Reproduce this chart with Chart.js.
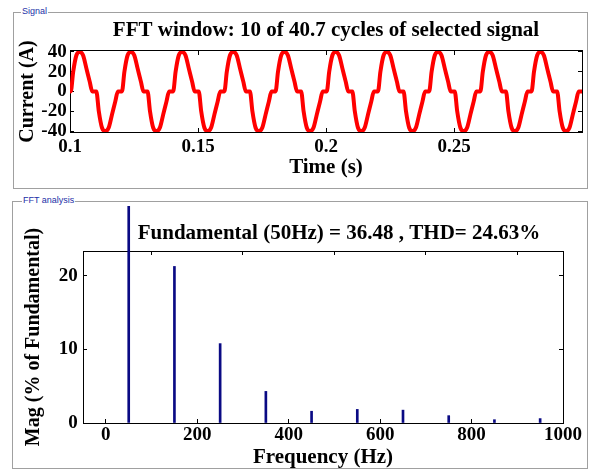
<!DOCTYPE html>
<html>
<head>
<meta charset="utf-8">
<script src="https://cdn.jsdelivr.net/npm/chart.js@4/dist/chart.umd.min.js"></script>
<style>
html,body{margin:0;padding:0;background:#fff;}
body{width:603px;height:472px;overflow:hidden;position:relative;}
.box{position:absolute;box-sizing:border-box;border:1px solid #a0a0a0;}
.lbl{position:absolute;font:9px "Liberation Sans",Arial,sans-serif;color:#2330a8;background:#fff;padding:0 1px;line-height:11px;white-space:nowrap;z-index:3;}
canvas{position:absolute;z-index:2;}
</style>
</head>
<body>
<div class="box" style="left:13px;top:12px;width:575px;height:177px;"></div>
<div class="lbl" style="left:21px;top:6px;">Signal</div>
<div class="box" style="left:12px;top:201px;width:576px;height:268px;"></div>
<div class="lbl" style="left:22px;top:195px;">FFT analysis</div>
<canvas id="c1" width="603" height="190" style="left:0;top:0;width:603px;height:190px;"></canvas>
<canvas id="c2" width="678" height="282" style="left:0;top:190px;width:678px;height:282px;"></canvas>
<script>
// ---------- Signal (top panel) ----------
const signalTitle = 'FFT window: 10 of 40.7 cycles of selected signal';
const signalXLabel = 'Time (s)';
const signalYLabel = 'Current (A)';
const timeTicks = [0.1, 0.15, 0.2, 0.25];
const currentTicks = [-40, -20, 0, 20, 40];

const timeS = [
  0.1,
  0.1003, 0.10125, 0.1025, 0.1038, 0.1051, 0.1064, 0.1077, 0.1087, 0.1103, 0.11125, 0.1125, 0.1138, 0.1151, 0.1164, 0.1177, 0.1187,
  0.1203, 0.12125, 0.1225, 0.1238, 0.1251, 0.1264, 0.1277, 0.1287, 0.1303, 0.13125, 0.1325, 0.1338, 0.1351, 0.1364, 0.1377, 0.1387,
  0.1403, 0.14125, 0.1425, 0.1438, 0.1451, 0.1464, 0.1477, 0.1487, 0.1503, 0.15125, 0.1525, 0.1538, 0.1551, 0.1564, 0.1577, 0.1587,
  0.1603, 0.16125, 0.1625, 0.1638, 0.1651, 0.1664, 0.1677, 0.1687, 0.1703, 0.17125, 0.1725, 0.1738, 0.1751, 0.1764, 0.1777, 0.1787,
  0.1803, 0.18125, 0.1825, 0.1838, 0.1851, 0.1864, 0.1877, 0.1887, 0.1903, 0.19125, 0.1925, 0.1938, 0.1951, 0.1964, 0.1977, 0.1987,
  0.2003, 0.20125, 0.2025, 0.2038, 0.2051, 0.2064, 0.2077, 0.2087, 0.2103, 0.21125, 0.2125, 0.2138, 0.2151, 0.2164, 0.2177, 0.2187,
  0.2203, 0.22125, 0.2225, 0.2238, 0.2251, 0.2264, 0.2277, 0.2287, 0.2303, 0.23125, 0.2325, 0.2338, 0.2351, 0.2364, 0.2377, 0.2387,
  0.2403, 0.24125, 0.2425, 0.2438, 0.2451, 0.2464, 0.2477, 0.2487, 0.2503, 0.25125, 0.2525, 0.2538, 0.2551, 0.2564, 0.2577, 0.2587,
  0.2603, 0.26125, 0.2625, 0.2638, 0.2651, 0.2664, 0.2677, 0.2687, 0.2703, 0.27125, 0.2725, 0.2738, 0.2751, 0.2764, 0.2777, 0.2787,
  0.2803, 0.28125, 0.2825, 0.2838, 0.2851, 0.2864, 0.2877, 0.2887, 0.2903, 0.29125, 0.2925, 0.2938, 0.2951, 0.2964, 0.2977, 0.2987,
  0.3
];
const currentA = [
  0,
  0, 20, 36.7, 40, 36.7, 23.4, 10, 0, 0, -20, -36.7, -40, -36.7, -23.4, -10, 0,
  0, 20, 36.7, 40, 36.7, 23.4, 10, 0, 0, -20, -36.7, -40, -36.7, -23.4, -10, 0,
  0, 20, 36.7, 40, 36.7, 23.4, 10, 0, 0, -20, -36.7, -40, -36.7, -23.4, -10, 0,
  0, 20, 36.7, 40, 36.7, 23.4, 10, 0, 0, -20, -36.7, -40, -36.7, -23.4, -10, 0,
  0, 20, 36.7, 40, 36.7, 23.4, 10, 0, 0, -20, -36.7, -40, -36.7, -23.4, -10, 0,
  0, 20, 36.7, 40, 36.7, 23.4, 10, 0, 0, -20, -36.7, -40, -36.7, -23.4, -10, 0,
  0, 20, 36.7, 40, 36.7, 23.4, 10, 0, 0, -20, -36.7, -40, -36.7, -23.4, -10, 0,
  0, 20, 36.7, 40, 36.7, 23.4, 10, 0, 0, -20, -36.7, -40, -36.7, -23.4, -10, 0,
  0, 20, 36.7, 40, 36.7, 23.4, 10, 0, 0, -20, -36.7, -40, -36.7, -23.4, -10, 0,
  0, 20, 36.7, 40, 36.7, 23.4, 10, 0, 0, -20, -36.7, -40, -36.7, -23.4, -10, 0,
  0
];

// ---------- FFT analysis (bottom panel) ----------
const fftTitle = 'Fundamental (50Hz) = 36.48 , THD= 24.63%';
const fftXLabel = 'Frequency (Hz)';
const fftYLabel = 'Mag (% of Fundamental)';
const freqTicks = [0, 200, 400, 600, 800, 1000];
const magTicks = [0, 10, 20];
const harmonicHz = [50, 150, 250, 350, 450, 550, 650, 750, 850, 950];
const magPct = [100, 21.3, 10.8, 4.3, 1.6, 1.85, 1.75, 1.0, 0.45, 0.6];

// ---------- common styling ----------
const SERIF = '"Liberation Serif","Times New Roman",serif';
const tickFont = {family: SERIF, size: 19, weight: 'bold'};
const titleFont = {family: SERIF, size: 21, weight: 'bold'};
const vTitleFont = {family: SERIF, size: 20, weight: 'bold'};
const BLACK = '#000';

function setTicks(list) { return s => { s.ticks = list.map(v => ({value: v})); }; }
function fixH(h) { return s => { s.height = h; }; }
function fixW(w) { return s => { s.width = w; }; }
const innerGrid = {drawOnChartArea: false, drawTicks: true, tickLength: -4, color: BLACK, lineWidth: 1};
const frameBorder = {display: true, color: BLACK, width: 1};

function mirrorAxis(axis, position, min, max, list, fit) {
  return {
    type: 'linear', axis: axis, position: position, display: true, min: min, max: max, offset: false,
    afterBuildTicks: setTicks(list), afterFit: fit,
    ticks: {display: false}, grid: innerGrid, border: frameBorder
  };
}

// ---------- top chart ----------
new Chart(document.getElementById('c1'), {
  type: 'line',
  data: {
    datasets: [{
      data: timeS.map((t, i) => ({x: t, y: currentA[i]})),
      borderColor: '#ff0000', borderWidth: 4, pointRadius: 0,
      cubicInterpolationMode: 'monotone', fill: false,
      borderJoinStyle: 'round', borderCapStyle: 'round'
    }]
  },
  options: {
    responsive: false, animation: false, devicePixelRatio: 1, events: [],
    layout: {padding: 0, autoPadding: false},
    plugins: {
      legend: {display: false}, tooltip: {enabled: false},
      title: {display: true, text: signalTitle, fullSize: false, color: BLACK, font: titleFont, padding: {top: 18.4, bottom: 5}}
    },
    scales: {
      x: {
        type: 'linear', position: 'bottom', min: 0.1, max: 0.3,
        afterBuildTicks: setTicks(timeTicks), afterFit: fixH(58),
        ticks: {font: tickFont, color: BLACK, padding: 8.1, maxRotation: 0, minRotation: 0, autoSkip: false, callback: v => String(v)},
        grid: innerGrid, border: frameBorder,
        title: {display: true, text: signalXLabel, color: BLACK, font: titleFont, padding: {top: 0, bottom: 9.4}}
      },
      x2: mirrorAxis('x', 'top', 0.1, 0.3, timeTicks, fixH(2.4)),
      y: {
        type: 'linear', position: 'left', min: -41, max: 41,
        afterBuildTicks: setTicks(currentTicks), afterFit: fixW(70),
        ticks: {font: tickFont, color: BLACK, padding: 7.3, autoSkip: false, callback: v => String(v)},
        grid: innerGrid, border: frameBorder,
        title: {display: true, text: signalYLabel, color: BLACK, font: vTitleFont, padding: {top: 16.3, bottom: 0}}
      },
      y2: mirrorAxis('y', 'right', -41, 41, currentTicks, fixW(21))
    }
  }
});

// ---------- bottom chart ----------
new Chart(document.getElementById('c2'), {
  type: 'bar',
  data: {
    datasets: [{
      data: harmonicHz.map((f, i) => ({x: f, y: magPct[i]})),
      backgroundColor: '#0a0a84', borderWidth: 0, barThickness: 2, grouped: false,
      clip: {left: 0, top: 45, right: 0, bottom: 0}
    }]
  },
  options: {
    responsive: false, animation: false, devicePixelRatio: 1, events: [],
    layout: {padding: 0, autoPadding: false},
    plugins: {
      legend: {display: false}, tooltip: {enabled: false},
      title: {display: true, text: fftTitle, fullSize: true, color: BLACK, font: titleFont, padding: {top: 30.7, bottom: 2}}
    },
    scales: {
      x: {
        type: 'linear', position: 'bottom', min: -50, max: 1000, offset: false,
        afterBuildTicks: setTicks(freqTicks), afterFit: fixH(49),
        ticks: {font: tickFont, color: BLACK, padding: 5.1, maxRotation: 0, minRotation: 0, autoSkip: false, callback: v => String(v)},
        grid: Object.assign({offset: false}, innerGrid), border: frameBorder,
        title: {display: true, text: fftXLabel, color: BLACK, font: titleFont, padding: {top: 0, bottom: 1.4}}
      },
      x2: mirrorAxis('x', 'top', -50, 1000, freqTicks, fixH(3.1)),
      y: {
        type: 'linear', position: 'left', min: 0, max: 23.4,
        afterBuildTicks: setTicks(magTicks), afterFit: fixW(83),
        ticks: {font: tickFont, color: BLACK, padding: 9.3, autoSkip: false, callback: v => String(v)},
        grid: innerGrid, border: frameBorder,
        title: {display: true, text: fftYLabel, color: BLACK, font: vTitleFont, padding: {top: 22, bottom: 0}}
      },
      y2: mirrorAxis('y', 'right', 0, 23.4, magTicks, fixW(115))
    }
  }
});
</script>
</body>
</html>
